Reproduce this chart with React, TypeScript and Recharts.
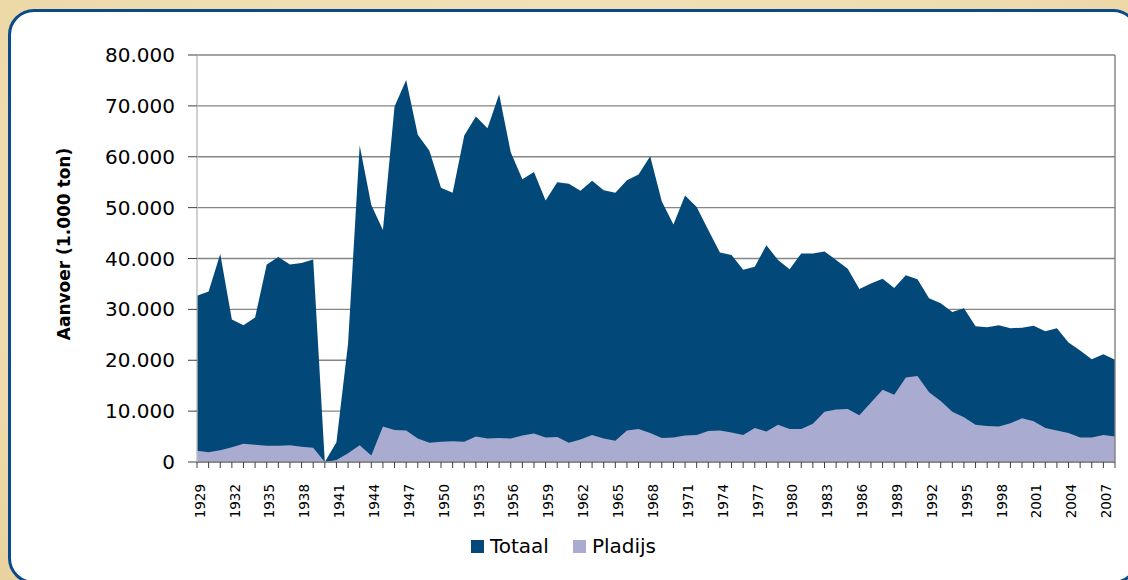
import React from "react";
import { AreaChart, Area, XAxis, YAxis, CartesianGrid, Legend, ReferenceLine } from "recharts";

const years = [
    "1929", "1930", "1931", "1932", "1933", "1934", "1935", "1936", "1937", "1938", "1939",
    "1940", "1941", "1942", "1943", "1944", "1945", "1946", "1947", "1948", "1949",
    "1950", "1951", "1952", "1953", "1954", "1955", "1956", "1957", "1958", "1959",
    "1960", "1961", "1962", "1963", "1964", "1965", "1966", "1967", "1968", "1969",
    "1970", "1971", "1972", "1973", "1974", "1975", "1976", "1977", "1978", "1979",
    "1980", "1981", "1982", "1983", "1984", "1985", "1986", "1987", "1988", "1989",
    "1990", "1991", "1992", "1993", "1994", "1995", "1996", "1997", "1998", "1999",
    "2000", "2001", "2002", "2003", "2004", "2005", "2006", "2007", "2008",
];

// aanvoer totaal (ton x 1.000)
const totaal = [
    32700, 33500, 40900, 28000, 26900, 28400, 38800, 40300, 38800, 39100, 39800,
    0, 3900, 23300, 62200, 50500, 45600, 69900, 75100, 64300, 61200,
    53900, 52900, 64200, 67900, 65600, 72300, 60900, 55600, 57000, 51400,
    55000, 54700, 53300, 55300, 53400, 52900, 55400, 56500, 60100, 51200,
    46700, 52400, 50100, 45600, 41200, 40700, 37800, 38400, 42600, 39700,
    37900, 41000, 41000, 41400, 39700, 38000, 34000, 35100, 36000, 34200,
    36700, 35900, 32200, 31200, 29500, 30200, 26700, 26500, 26900, 26300,
    26400, 26800, 25700, 26300, 23500, 21900, 20200, 21200, 20100,
];

const pladijs = [
    2200, 1900, 2300, 2900, 3600, 3400, 3200, 3200, 3300, 3000, 2800,
    0, 400, 1700, 3300, 1300, 7000, 6300, 6200, 4600, 3800,
    4000, 4100, 4000, 5000, 4600, 4700, 4600, 5200, 5600, 4800,
    4900, 3800, 4400, 5300, 4600, 4200, 6200, 6500, 5700, 4700,
    4800, 5200, 5300, 6100, 6200, 5800, 5300, 6700, 6000, 7300,
    6500, 6500, 7500, 9900, 10300, 10400, 9200, 11700, 14200, 13200,
    16600, 16900, 13700, 12000, 9900, 8800, 7300, 7100, 7000, 7600,
    8600, 8000, 6700, 6200, 5700, 4800, 4800, 5300, 5000,
];

const yTicks = [0, 10000, 20000, 30000, 40000, 50000, 60000, 70000, 80000];

const series = [
    { key: "totaal", name: "Totaal", color: "#024878" },
    { key: "pladijs", name: "Pladijs", color: "#a9abd1" },
];

const data = years.map((year, i) => ({ year, totaal: totaal[i], pladijs: pladijs[i] }));

const FONT = "'DejaVu Sans', Verdana, sans-serif";

const fmt = (v: number) => String(v).replace(/\B(?=(\d{3})+(?!\d))/g, ".");

function YearTick(props: any) {
    const { x, y, payload } = props;
    const idx = payload?.index ?? props.index ?? 0;
    return (
        <g>
            <line x1={x} y1={y} x2={x} y2={y + 6} stroke="#404040" strokeWidth={1} />
            {idx % 3 === 0 && (
                <text
                    transform={`translate(${x + 3},${y + 22}) rotate(-90)`}
                    textAnchor="end"
                    dy="0.35em"
                    fontSize={13.5}
                    fontFamily={FONT}
                    fill="#000"
                >
                    {payload.value}
                </text>
            )}
        </g>
    );
}

const LegendContent = () => (
    <div style={{ display: "flex", justifyContent: "center", alignItems: "center", height: 40, gap: 24, paddingLeft: 12, fontFamily: FONT, fontSize: 20, color: "#000" }}>
        {series.map((s) => (
            <span key={s.key} style={{ display: "flex", alignItems: "center" }}>
                <span style={{ width: 13, height: 13, background: s.color, marginRight: 6, display: "inline-block" }} />
                {s.name}
            </span>
        ))}
    </div>
);

export default function App() {
    return (
        <div style={{ position: "absolute", left: 0, top: 0, width: 1128, height: 580, overflow: "hidden", background: "radial-gradient(ellipse at 50% 40%, #f6e8c4 0%, #efdcae 70%, #e9d29f 100%)" }}>
            <div style={{ position: "absolute", left: 8, top: 9, width: 1131, height: 575, boxSizing: "border-box", border: "3px solid #0b4a8a", borderRadius: 26, background: "#fff" }} />
            <div style={{ position: "absolute", left: 0, top: 0 }}>
                <AreaChart width={1128} height={580} data={data} margin={{ top: 55, right: 13, bottom: 14, left: 0 }}>
                    <CartesianGrid vertical={false} stroke="#858585" strokeWidth={1.4} />
                    <XAxis
                        dataKey="year"
                        interval={0}
                        height={64}
                        tickSize={0}
                        tickMargin={0}
                        tickLine={false}
                        axisLine={{ stroke: "#808080", strokeWidth: 1.4 }}
                        tick={<YearTick />}
                    />
                    <YAxis
                        width={197}
                        domain={[0, 80000]}
                        ticks={yTicks}
                        tickFormatter={fmt}
                        tickSize={9}
                        tickMargin={13}
                        tickLine={{ stroke: "#404040" }}
                        axisLine={{ stroke: "#bdbdbd", strokeWidth: 1.4 }}
                        tick={{ fill: "#000", fontSize: 20, fontFamily: FONT }}
                        label={{
                            content: () => (
                                <text transform="translate(64,244) rotate(-90)" textAnchor="middle" dy="0.35em" fontSize={17} fontWeight="bold" fontFamily={FONT} fill="#000">
                                    Aanvoer (1.000 ton)
                                </text>
                            ),
                        }}
                    />
                    <Area type="linear" dataKey="totaal" name="Totaal" stroke="none" fill="#024878" fillOpacity={1} isAnimationActive={false} dot={false} activeDot={false} />
                    <Area type="linear" dataKey="pladijs" name="Pladijs" stroke="none" fill="#a9abd1" fillOpacity={1} isAnimationActive={false} dot={false} activeDot={false} />
                    <ReferenceLine x="2008" stroke="#808080" strokeWidth={1.4} />
                    <Legend verticalAlign="bottom" height={40} content={<LegendContent />} />
                </AreaChart>
            </div>
        </div>
    );
}
